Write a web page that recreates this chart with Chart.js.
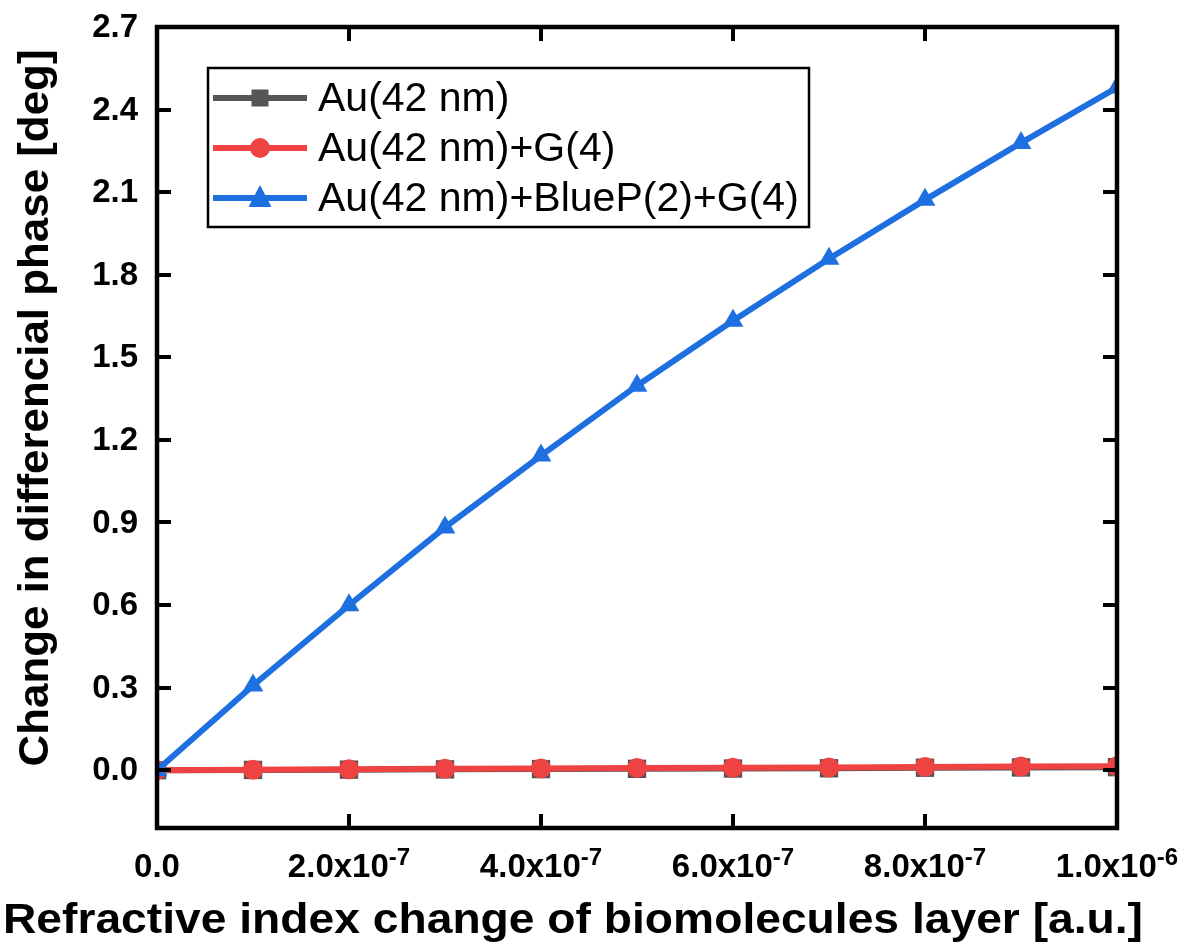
<!DOCTYPE html>
<html>
<head>
<meta charset="utf-8">
<title>Differential phase vs refractive index change</title>
<script src="https://cdn.jsdelivr.net/npm/chart.js@4.4.1/dist/chart.umd.min.js"></script>
<style>
  html, body { margin: 0; padding: 0; background: #fff; }
  #wrap { width: 1180px; height: 946px; }
</style>
</head>
<body>
<div id="wrap"><canvas id="phaseChart" width="1180" height="946"></canvas></div>
<script>
// refractive index change (a.u.)
const xValues = [0, 1e-7, 2e-7, 3e-7, 4e-7, 5e-7, 6e-7, 7e-7, 8e-7, 9e-7, 1e-6];

// change in differential phase (deg)
const auPhase = [0, 0.001, 0.002, 0.003, 0.004, 0.005, 0.006, 0.007, 0.009, 0.010, 0.011];
const auGPhase = [0, 0.002, 0.003, 0.005, 0.006, 0.008, 0.009, 0.010, 0.012, 0.013, 0.014];
const auBluePGPhase = [0, 0.308, 0.599, 0.882, 1.143, 1.397, 1.633, 1.858, 2.072, 2.279, 2.48];

const seriesNames = ['Au(42 nm)', 'Au(42 nm)+G(4)', 'Au(42 nm)+BlueP(2)+G(4)'];

const yTicks = [0, 0.3, 0.6, 0.9, 1.2, 1.5, 1.8, 2.1, 2.4, 2.7];
const yTickLabels = ['0.0', '0.3', '0.6', '0.9', '1.2', '1.5', '1.8', '2.1', '2.4', '2.7'];
const xTicks = [0, 2e-7, 4e-7, 6e-7, 8e-7, 1e-6];
const xTickMantissa = ['0.0', '2.0x10', '4.0x10', '6.0x10', '8.0x10', '1.0x10'];
const xTickExponent = ['', '-7', '-7', '-7', '-7', '-6'];

const xTitle = 'Refractive index change of biomolecules layer [a.u.]';
const yTitle = 'Change in differencial phase [deg]';

const FONT = '"Liberation Sans", Arial, Helvetica, sans-serif';

function toPoints(ys) {
  return xValues.map((x, i) => ({ x: x, y: ys[i] }));
}

// draw text squeezed/stretched horizontally to a given width
function fillFitted(ctx, text, x, y, width) {
  const w = ctx.measureText(text).width;
  ctx.save();
  ctx.translate(x, y);
  ctx.scale(width / w, 1);
  ctx.fillText(text, 0, 0);
  ctx.restore();
}

function legendMarker(ctx, style, cx, cy) {
  ctx.beginPath();
  if (style === 'rect') {
    ctx.rect(cx - 8.5, cy - 8.5, 17, 17);
  } else if (style === 'triangle') {
    ctx.moveTo(cx, cy - 13);
    ctx.lineTo(cx + 11.5, cy + 9);
    ctx.lineTo(cx - 11.5, cy + 9);
    ctx.closePath();
  } else {
    ctx.arc(cx, cy, 10, 0, Math.PI * 2);
  }
  ctx.fill();
}

// frame, inward ticks, labels, titles and legend
const framePlugin = {
  id: 'frame',
  afterDatasetsDraw(chart) {
    const ctx = chart.ctx;
    const area = chart.chartArea;
    const xs = chart.scales.x;
    const ys = chart.scales.y;

    ctx.save();
    ctx.strokeStyle = '#000';
    ctx.lineCap = 'butt';

    // ticks pointing into the plot, on all four sides
    ctx.lineWidth = 4;
    ctx.beginPath();
    xTicks.forEach((v) => {
      const px = Math.round(xs.getPixelForValue(v));
      ctx.moveTo(px, area.bottom);
      ctx.lineTo(px, area.bottom - 14);
      ctx.moveTo(px, area.top);
      ctx.lineTo(px, area.top + 14);
    });
    yTicks.forEach((v) => {
      const py = Math.round(ys.getPixelForValue(v));
      ctx.moveTo(area.left, py);
      ctx.lineTo(area.left + 14, py);
      ctx.moveTo(area.right, py);
      ctx.lineTo(area.right - 14, py);
    });
    ctx.stroke();

    // box
    ctx.lineWidth = 4.5;
    ctx.strokeRect(area.left, area.top, area.right - area.left, area.bottom - area.top);

    // y tick labels
    ctx.fillStyle = '#000';
    ctx.font = 'bold 33px ' + FONT;
    ctx.textAlign = 'right';
    ctx.textBaseline = 'middle';
    yTicks.forEach((v, i) => {
      ctx.fillText(yTickLabels[i], area.left - 19, ys.getPixelForValue(v) + 1);
    });

    // x tick labels with superscript exponent
    ctx.textBaseline = 'alphabetic';
    ctx.textAlign = 'left';
    const baseFont = 'bold 33px ' + FONT;
    const supFont = 'bold 24px ' + FONT;
    xTicks.forEach((v, i) => {
      ctx.font = baseFont;
      const wBase = ctx.measureText(xTickMantissa[i]).width;
      ctx.font = supFont;
      const wSup = xTickExponent[i] ? ctx.measureText(xTickExponent[i]).width : 0;
      const left = xs.getPixelForValue(v) - (wBase + wSup) / 2;
      const baseY = area.bottom + 49;
      ctx.font = baseFont;
      ctx.fillText(xTickMantissa[i], left, baseY);
      if (xTickExponent[i]) {
        ctx.font = supFont;
        ctx.fillText(xTickExponent[i], left + wBase, baseY - 12);
      }
    });

    // axis titles
    ctx.font = 'bold 42px ' + FONT;
    ctx.textAlign = 'center';
    ctx.textBaseline = 'middle';
    fillFitted(ctx, xTitle, 573, 921, 1140);
    ctx.save();
    ctx.translate(36, 408);
    ctx.rotate(-Math.PI / 2);
    fillFitted(ctx, yTitle, 0, 0, 717);
    ctx.restore();

    // legend
    const lg = { left: 208, top: 68, width: 601, height: 159, rowY: [98, 148, 198] };
    ctx.fillStyle = '#fff';
    ctx.fillRect(lg.left, lg.top, lg.width, lg.height);
    ctx.lineWidth = 2.5;
    ctx.strokeStyle = '#000';
    ctx.strokeRect(lg.left, lg.top, lg.width, lg.height);

    chart.data.datasets.forEach((ds, row) => {
      const y = lg.rowY[row];
      ctx.strokeStyle = ds.borderColor;
      ctx.lineWidth = ds.borderWidth;
      ctx.beginPath();
      ctx.moveTo(lg.left + 5, y);
      ctx.lineTo(lg.left + 99, y);
      ctx.stroke();
      ctx.fillStyle = ds.pointBackgroundColor;
      legendMarker(ctx, ds.pointStyle, lg.left + 52, y);
      ctx.fillStyle = '#000';
      ctx.font = '41px ' + FONT;
      ctx.textAlign = 'left';
      ctx.textBaseline = 'middle';
      ctx.fillText(ds.label, lg.left + 110, y + 2);
    });

    ctx.restore();
  }
};

const ctx = document.getElementById('phaseChart').getContext('2d');
new Chart(ctx, {
  type: 'line',
  data: {
    datasets: [
      {
        label: seriesNames[0],
        data: toPoints(auPhase),
        borderColor: '#555555',
        backgroundColor: '#555555',
        pointBackgroundColor: '#555555',
        pointBorderWidth: 0,
        pointStyle: 'rect',
        pointRadius: 13,
        borderWidth: 6,
        clip: 0,
        order: 3
      },
      {
        label: seriesNames[1],
        data: toPoints(auGPhase),
        borderColor: '#ef4343',
        backgroundColor: '#ef4343',
        pointBackgroundColor: '#ef4343',
        pointBorderWidth: 0,
        pointStyle: 'circle',
        pointRadius: 10,
        borderWidth: 6,
        clip: 0,
        order: 2
      },
      {
        label: seriesNames[2],
        data: toPoints(auBluePGPhase),
        borderColor: '#1e6fdf',
        backgroundColor: '#1e6fdf',
        pointBackgroundColor: '#1e6fdf',
        pointBorderWidth: 0,
        pointStyle: 'triangle',
        pointRadius: 12,
        borderWidth: 6,
        clip: 0,
        order: 1
      }
    ]
  },
  options: {
    responsive: false,
    animation: false,
    devicePixelRatio: 1,
    layout: { padding: { left: 157, top: 27, right: 63, bottom: 118 } },
    plugins: { legend: { display: false }, tooltip: { enabled: false } },
    elements: { line: { tension: 0 } },
    scales: {
      x: {
        type: 'linear',
        display: false,
        min: 0,
        max: 1e-6,
        afterBuildTicks: (scale) => { scale.ticks = xTicks.map((v) => ({ value: v })); }
      },
      y: {
        type: 'linear',
        display: false,
        min: -0.21,
        max: 2.7,
        afterBuildTicks: (scale) => { scale.ticks = yTicks.map((v) => ({ value: v })); }
      }
    }
  },
  plugins: [framePlugin]
});
</script>
</body>
</html>
